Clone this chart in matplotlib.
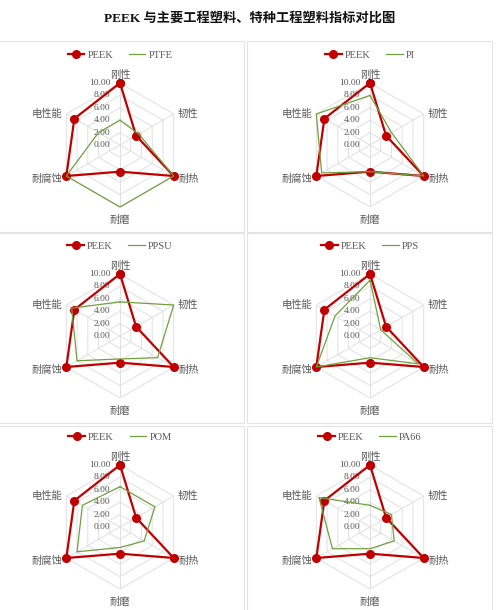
import numpy as np
import matplotlib
matplotlib.use("Agg")
import matplotlib.pyplot as plt
from matplotlib.patches import Rectangle

plt.rcParams["font.family"] = ["Liberation Serif", "Noto Sans CJK SC", "DejaVu Sans"]

# data
categories = ["刚性", "韧性", "耐热", "耐磨", "耐腐蚀", "电性能"]
peek = [10, 3, 10, 4.3, 10, 8.5]
materials = ["PTFE", "PI", "PPSU", "PPS", "POM", "PA66"]
ptfe = [4, 3.5, 10, 10, 10, 4]
pi = [8, 4, 10, 4.3, 9, 10]
ppsu = [5.5, 10, 7, 3.7, 8, 9]
pps = [9, 2, 9, 3.5, 10, 6.5]
pom = [6.5, 6.5, 4.5, 3.3, 8, 7]
pa66 = [3.5, 4, 4.5, 3.5, 7, 9.5]
rings = [0, 2, 4, 6, 8, 10]
title = "PEEK 与主要工程塑料、特种工程塑料指标对比图"

others = [ptfe, pi, ppsu, pps, pom, pa66]

W, H = 500, 610
RED = "#c00000"
GREEN = "#70a040"
GRID = "#e0e0e0"
TEXT = "#595959"

fig = plt.figure(figsize=(W / 100, H / 100), dpi=100)
fig.patch.set_facecolor("white")

fig.text(0.5, 1 - 18 / H, title, ha="center", va="center",
         fontsize=9.5, fontweight="bold", color="#111111")

# panel boxes (pixel coords, top-left origin)
panels_px = [(-3, 41, 247, 191), (247, 41, 245, 191),
             (-3, 233, 247, 190), (247, 233, 245, 190),
             (-3, 426, 247, 190), (247, 426, 245, 190)]
for x, y, w, h in panels_px:
    fig.add_artist(Rectangle((x / W, 1 - (y + h) / H), w / W, h / H,
                             transform=fig.transFigure, fill=False,
                             edgecolor="#e3e3e3", lw=0.8))

centers = [(120, 145), (370, 145), (120, 336), (370, 336), (120, 527), (370, 527)]
R = 62

n = len(categories)
theta = np.linspace(0, 2 * np.pi, n, endpoint=False)
theta_c = np.append(theta, theta[0])

for (cx, cy), name, vals in zip(centers, materials, others):
    ax = fig.add_axes([(cx - R) / W, (H - cy - R) / H, 2 * R / W, 2 * R / H],
                      projection="polar")
    ax.set_theta_offset(np.pi / 2)
    ax.set_theta_direction(-1)
    ax.set_ylim(0, 10)
    ax.grid(False)
    ax.spines["polar"].set_visible(False)
    ax.set_xticks([])
    ax.set_yticks([])
    ax.patch.set_alpha(0)

    for r in rings[1:]:
        ax.plot(theta_c, [r] * (n + 1), color=GRID, lw=0.7, zorder=1)
    for t in theta:
        ax.plot([t, t], [0, 10], color=GRID, lw=0.7, zorder=1)

    for r in rings:
        ax.annotate(f"{r:.2f}", xy=(0, r), xytext=(-7, 0), textcoords="offset points",
                    ha="right", va="center", fontsize=6.8, color=TEXT)

    # category labels around the hexagon
    offsets = [(0, 2, "center", "bottom"), (3, 0, "left", "center"),
               (3.5, -2, "left", "center"), (0, -6, "center", "top"),
               (-3, -2, "right", "center"), (-3, 0, "right", "center")]
    for t, lab, (dx, dy, ha, va) in zip(theta, categories, offsets):
        ax.annotate(lab, xy=(t, 10), xytext=(dx, dy), textcoords="offset points",
                    ha=ha, va=va, fontsize=7.4, color=TEXT,
                    annotation_clip=False)

    ax.plot(theta_c, peek + peek[:1], color=RED, lw=1.6, marker="o",
            markersize=5.5, label="PEEK", zorder=3, clip_on=False)
    ax.plot(theta_c, vals + vals[:1], color=GREEN, lw=0.9, label=name,
            zorder=4, clip_on=False)

    ax.legend(loc="center", bbox_to_anchor=(0.5, 0.5 + 90 / (2 * R)), ncol=2,
              frameon=False, fontsize=7.5, handlelength=1.6, handletextpad=0.3,
              columnspacing=1.5, labelcolor=TEXT)

fig.savefig("out.png", dpi=100, facecolor="white")
